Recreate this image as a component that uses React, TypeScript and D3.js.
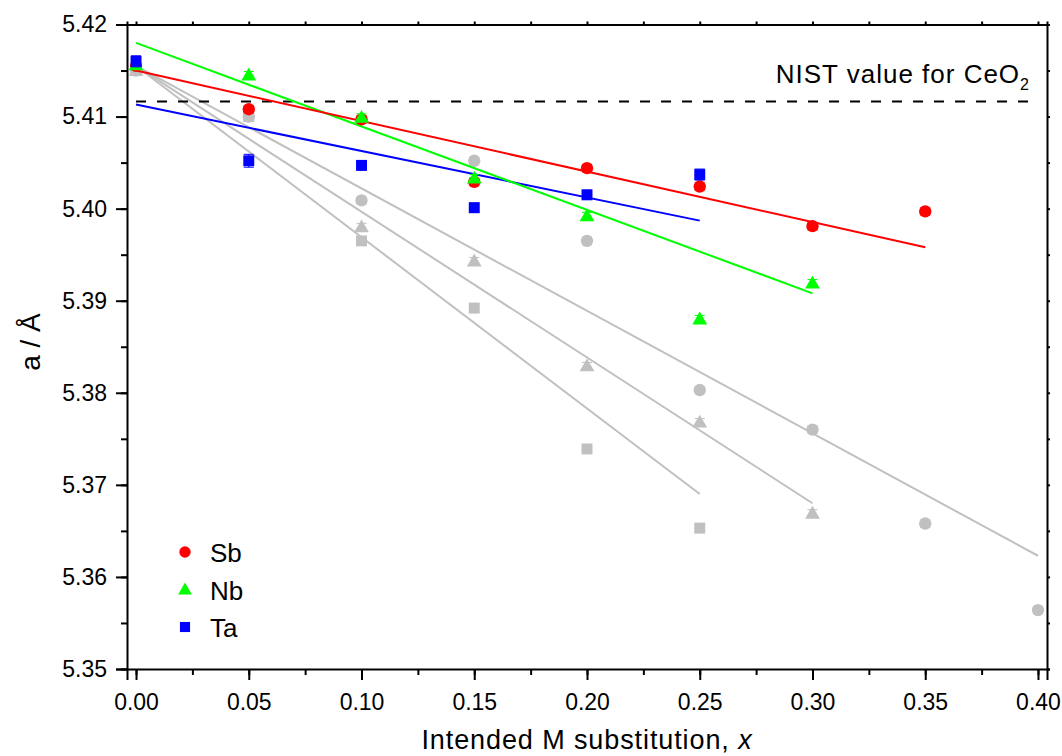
import * as d3 from "d3";
import React, { useEffect, useRef } from "react";

// measured lattice parameters (Å) vs intended substitution x
const sbX = [0.0, 0.05, 0.1, 0.15, 0.2, 0.25, 0.3, 0.35];
const sbA = [5.4155, 5.4108, 5.4097, 5.4029, 5.4044, 5.4024, 5.3981, 5.3997];
const nbX = [0.0, 0.05, 0.1, 0.15, 0.2, 0.25, 0.3];
const nbA = [5.4156, 5.4145, 5.4099, 5.4033, 5.3992, 5.388, 5.3919];
const taX = [0.0, 0.05, 0.1, 0.15, 0.2, 0.25];
const taA = [5.416, 5.4052, 5.4047, 5.4001, 5.4015, 5.4037];
const taErr = [0.0006, 0.0007, 0.0005, 0.0005, 0.0005, 0.0006];

// grey reference series
const greyCircX = [0.0, 0.05, 0.1, 0.15, 0.2, 0.25, 0.3, 0.35, 0.4];
const greyCircA = [5.415, 5.41, 5.4009, 5.4052, 5.3965, 5.3803, 5.376, 5.3658, 5.3564];
const greyTriX = [0.0, 0.1, 0.15, 0.2, 0.25, 0.3];
const greyTriA = [5.415, 5.398, 5.3943, 5.3829, 5.3768, 5.3669];
const greySqX = [0.0, 0.05, 0.1, 0.15, 0.2, 0.25];
const greySqA = [5.415, 5.41, 5.3965, 5.3892, 5.3739, 5.3653];

// linear fits: [x0, a0, x1, a1]
const sbFit = [0, 5.415, 0.35, 5.3958];
const nbFit = [0, 5.418, 0.3, 5.3908];
const taFit = [0, 5.4113, 0.25, 5.3987];
const greyCircFit = [0, 5.4155, 0.4, 5.3623];
const greyTriFit = [0, 5.4155, 0.3, 5.368];
const greySqFit = [0, 5.4155, 0.25, 5.369];

const nistValue = 5.41165;
const xTicks = [0, 0.05, 0.1, 0.15, 0.2, 0.25, 0.3, 0.35, 0.4];
const yTicks = [5.35, 5.36, 5.37, 5.38, 5.39, 5.4, 5.41, 5.42];

const RED = "#ff0000";
const GREEN = "#00ff00";
const BLUE = "#0000ff";
const GREY = "#c0c0c0";
const FONT = "'Liberation Sans', Arial, sans-serif";

export default function App() {
  const svgRef = useRef<SVGSVGElement>(null);
  const W = 1062;
  const H = 756;

  useEffect(() => {
    const svg = d3.select(svgRef.current);
    svg.selectAll("*").remove();

    const x = d3.scaleLinear().domain([-0.004, 0.404]).range([127, 1047]);
    const y = d3.scaleLinear().domain([5.35, 5.42]).range([669, 24.5]);

    const minorX = d3.range(0, 0.401, 0.025);
    const minorY = d3.range(5.35, 5.4201, 0.005);

    // fit lines
    const drawFit = (f: number[], color: string) => {
      svg.append("line")
        .attr("x1", x(f[0])).attr("y1", y(f[1]))
        .attr("x2", x(f[2])).attr("y2", y(f[3]))
        .attr("stroke", color).attr("stroke-width", 2);
    };
    drawFit(greyCircFit, GREY);
    drawFit(greyTriFit, GREY);
    drawFit(greySqFit, GREY);

    // NIST dashed line
    svg.append("line")
      .attr("x1", x(0)).attr("x2", 1035)
      .attr("y1", y(nistValue)).attr("y2", y(nistValue))
      .attr("stroke", "#000").attr("stroke-width", 2)
      .attr("stroke-dasharray", "10,11");

    const nist = svg.append("text")
      .attr("x", 1029).attr("y", 83)
      .attr("text-anchor", "end")
      .style("font-family", FONT).style("font-size", "26px")
      .style("letter-spacing", "1px");
    nist.append("tspan").text("NIST value for CeO");
    nist.append("tspan").attr("dy", 7).style("font-size", "16px").style("letter-spacing", "0px").text("2");

    const sym = (shape: string, size: number) => {
      const t = shape === "circle" ? d3.symbolCircle : shape === "triangle" ? d3.symbolTriangle : d3.symbolSquare;
      return d3.symbol().type(t).size(size)();
    };
    const sizes: Record<string, number> = { circle: 120, triangle: 95, square: 120 };

    const drawPoints = (xs: number[], as: number[], errs: number[] | null, shape: string, color: string) => {
      const g = svg.append("g");
      xs.forEach((xv, i) => {
        const e = errs ? errs[i] : 0.0004;
        const cx = x(xv);
        g.append("line")
          .attr("x1", cx).attr("x2", cx)
          .attr("y1", y(as[i] - e)).attr("y2", y(as[i] + e))
          .attr("stroke", color).attr("stroke-width", 1);
        [as[i] - e, as[i] + e].forEach((v) => {
          g.append("line")
            .attr("x1", cx - 5).attr("x2", cx + 5)
            .attr("y1", y(v)).attr("y2", y(v))
            .attr("stroke", color).attr("stroke-width", 1);
        });
        g.append("path")
          .attr("d", sym(shape, sizes[shape]))
          .attr("transform", `translate(${cx},${y(as[i]) + (shape === "triangle" ? 1 : 0)})`)
          .attr("fill", color);
      });
    };

    drawPoints(greyCircX, greyCircA, null, "circle", GREY);
    drawPoints(greyTriX, greyTriA, null, "triangle", GREY);
    drawPoints(greySqX, greySqA, null, "square", GREY);

    drawFit(taFit, BLUE);
    drawFit(nbFit, GREEN);
    drawFit(sbFit, RED);

    drawPoints(sbX, sbA, null, "circle", RED);
    drawPoints(nbX, nbA, null, "triangle", GREEN);
    drawPoints(taX, taA, taErr, "square", BLUE);

    // axes
    const fmt = d3.format(".2f");
    const xAxis = svg.append("g").attr("transform", "translate(0,669)")
      .call(d3.axisBottom(x).tickValues(xTicks).tickSize(11).tickPadding(14).tickFormat((d) => fmt(d as number)));
    svg.append("g").attr("transform", "translate(0,669)")
      .call(d3.axisBottom(x).tickValues(minorX).tickSize(6).tickFormat(() => ""))
      .select(".domain").remove();
    const yAxis = svg.append("g").attr("transform", "translate(127,0)")
      .call(d3.axisLeft(y).tickValues(yTicks).tickSize(11).tickPadding(9).tickFormat((d) => fmt(d as number)));
    svg.append("g").attr("transform", "translate(127,0)")
      .call(d3.axisLeft(y).tickValues(minorY).tickSize(6).tickFormat(() => ""))
      .select(".domain").remove();
    svg.append("g").attr("transform", "translate(0,24.5)")
      .call(d3.axisTop(x).tickValues(minorX).tickSize(3).tickFormat(() => ""));
    svg.append("g").attr("transform", "translate(1047,0)")
      .call(d3.axisRight(y).tickValues(minorY).tickSize(3).tickFormat(() => ""));

    svg.selectAll(".domain").attr("stroke-width", 2).attr("stroke", "#000");
    svg.selectAll(".tick line").attr("stroke-width", 2).attr("stroke", "#000");
    [xAxis, yAxis].forEach((a) =>
      a.selectAll("text").style("font-family", FONT).style("font-size", "23px").attr("fill", "#000"));

    // axis titles
    const xl = svg.append("text")
      .attr("x", 587).attr("y", 749)
      .attr("text-anchor", "middle")
      .style("font-family", FONT).style("font-size", "27px")
      .style("letter-spacing", "0.9px");
    xl.append("tspan").text("Intended M substitution, ");
    xl.append("tspan").style("font-style", "italic").text("x");

    svg.append("text")
      .attr("transform", "translate(40,342) rotate(-90)")
      .attr("text-anchor", "middle")
      .style("font-family", FONT).style("font-size", "28px")
      .text("a / Å");

    // legend
    const legend = [
      { label: "Sb", shape: "circle", color: RED },
      { label: "Nb", shape: "triangle", color: GREEN },
      { label: "Ta", shape: "square", color: BLUE },
    ];
    legend.forEach((l, i) => {
      const ly = 552 + i * 37.5;
      svg.append("path")
        .attr("d", sym(l.shape, sizes[l.shape] * 0.85))
        .attr("transform", `translate(185,${ly + (l.shape === "triangle" ? 1 : 0)})`)
        .attr("fill", l.color);
      svg.append("text")
        .attr("x", 210).attr("y", ly + 10)
        .style("font-family", FONT).style("font-size", "26px")
        .text(l.label);
    });
  }, []);

  return (
    <svg ref={svgRef} width={W} height={H}
      style={{ position: "absolute", left: 0, top: 0, background: "#fff" }} />
  );
}
